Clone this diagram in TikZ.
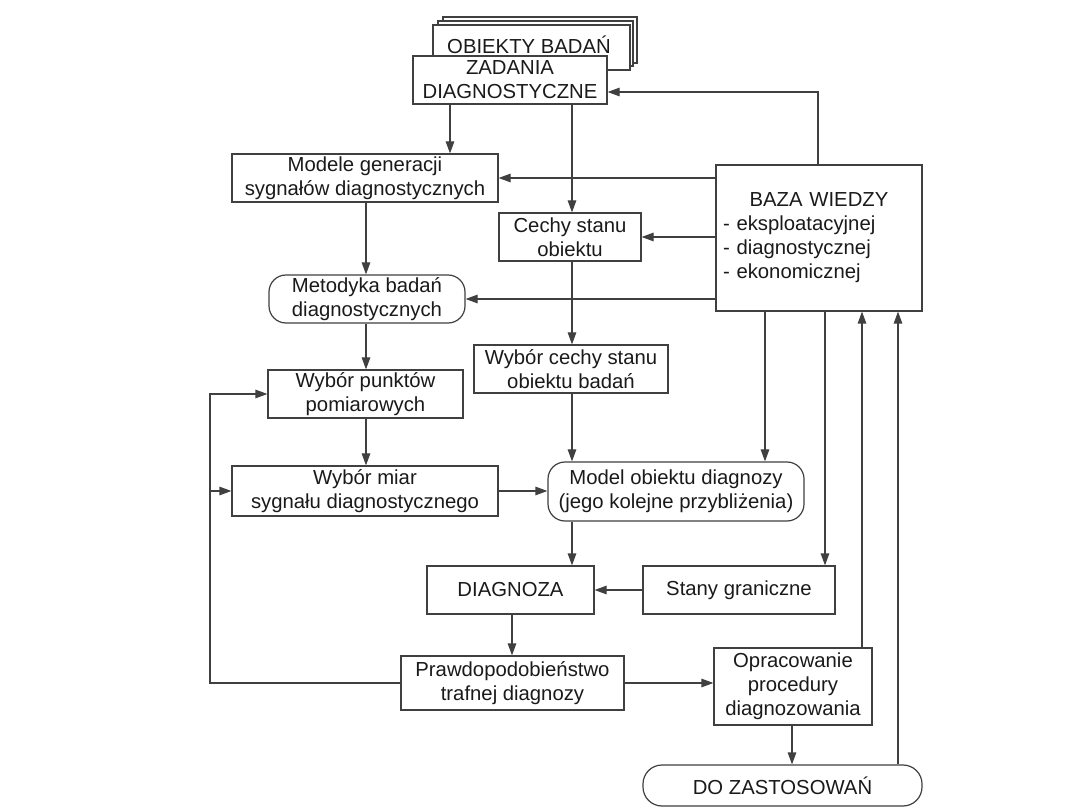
\documentclass[tikz,border=0pt]{standalone}
\usepackage{fontspec}
\setmainfont{Liberation Sans}
\usetikzlibrary{arrows.meta,calc}
\definecolor{ln}{HTML}{404040}
\definecolor{tx}{HTML}{1A1A1A}
\begin{document}
\begin{tikzpicture}[x=1pt,y=-1pt,
  font=\fontsize{20.3}{24}\selectfont,
  box/.style={draw=ln, line width=1.2pt, fill=white, text=tx, align=center, inner sep=1pt},
  rbox/.style={box, rounded corners=17pt},
  sz/.style 2 args={minimum width=#1pt, minimum height=#2pt},
  arr/.style={draw=ln, line width=1.2pt, -{Triangle[length=12pt,width=8.5pt]}},
  plain/.style={draw=ln, line width=1.2pt}]
\useasboundingbox[fill=white] (0,0) rectangle (1080,810);

% stacked object boxes
\node[box, sz={194}{46}] (ob3) at (540,40) {};
\node[box, sz={195}{45}] (ob2) at (535.5,43.5) {};
\node[box, sz={197}{45}] (ob1) at (531.5,47.5) {};
\node[text=tx] (obt) at (529,45) {OBIEKTY BADAŃ};
\node[box, sz={194}{48}] (zad) at (510,80) {ZADANIA\\DIAGNOSTYCZNE};

\node[box, sz={266}{48}] (modele) at (365,178) {Modele generacji\\sygnałów diagnostycznych};
\node[box, sz={142}{48}] (cechy) at (570,237) {Cechy stanu\\obiektu};
\node[box, sz={206}{146}, text width=192pt, align=left] (baza) at (819,238)
  {{\centering BAZA WIEDZY\par}- eksploatacyjnej\par - diagnostycznej\par - ekonomicznej};
\node[rbox, sz={196}{48}] (metodyka) at (367,299) {Metodyka badań\\diagnostycznych};
\node[box, sz={194}{48}] (wcechy) at (571,369) {Wybór cechy stanu\\obiektu badań};
\node[box, sz={195}{48}] (wpunkt) at (365.5,394) {Wybór punktów\\pomiarowych};
\node[box, sz={266}{50}] (wmiar) at (365,491) {Wybór miar\\sygnału diagnostycznego};
\node[rbox, sz={256}{59}] (model) at (676,491.5) {Model obiektu diagnozy\\(jego kolejne przybliżenia)};
\node[box, sz={167}{48}] (diag) at (510.5,590) {DIAGNOZA};
\node[box, sz={192}{48}] (stany) at (739,590) {Stany graniczne};
\node[box, sz={223}{54}] (prawd) at (512.5,683) {Prawdopodobieństwo\\trafnej diagnozy};
\node[box, sz={158}{77}] (oprac) at (793,686.5) {Opracowanie\\procedury\\diagnozowania};
\node[rbox, sz={279}{41}, rounded corners=19pt] (dozast) at (782.5,785.5) {DO ZASTOSOWAŃ};

\coordinate (fb) at (210,0);

% connectors
\draw[arr] (baza.north -| 818,0) |- (zad.east |- 0,92);
\draw[arr] (zad.south -| 450,0) -- (modele.north -| 450,0);
\draw[arr] (zad.south -| 572,0) -- (cechy.north -| 572,0);
\draw[arr] (baza.west |- modele.east) -- (modele.east);
\draw[arr] (baza.west |- cechy.east) -- (cechy.east);
\draw[arr] (baza.west |- metodyka.east) -- (metodyka.east);
\draw[arr] (modele.south -| 366,0) -- (metodyka.north -| 366,0);
\draw[arr] (metodyka.south -| 366,0) -- (wpunkt.north -| 366,0);
\draw[arr] (cechy.south -| 572,0) -- (wcechy.north -| 572,0);
\draw[arr] (wpunkt.south -| 366,0) -- (wmiar.north -| 366,0);
\draw[arr] (wcechy.south -| 572,0) -- (model.north -| 572,0);
\draw[arr] (baza.south -| 765,0) -- (model.north -| 765,0);
\draw[arr] (wmiar.east) -- (model.west |- wmiar.east);
\draw[arr] (model.south -| 572,0) -- (diag.north -| 572,0);
\draw[arr] (baza.south -| 825,0) -- (stany.north -| 825,0);
\draw[arr] (stany.west) -- (diag.east);
\draw[arr] (diag.south -| 512,0) -- (prawd.north -| 512,0);
\draw[arr] (prawd.east) -- (oprac.west |- prawd.east);
\draw[arr] (prawd.west) -| (fb |- wpunkt.west) -- (wpunkt.west);
\draw[arr] (fb |- wmiar.west) -- (wmiar.west);
\draw[arr] (oprac.north -| 862,0) -- (baza.south -| 862,0);
\draw[arr] (oprac.south -| 792,0) -- (dozast.north -| 792,0);
\draw[arr] (dozast.north -| 898,0) -- (baza.south -| 898,0);
\end{tikzpicture}
\end{document}
